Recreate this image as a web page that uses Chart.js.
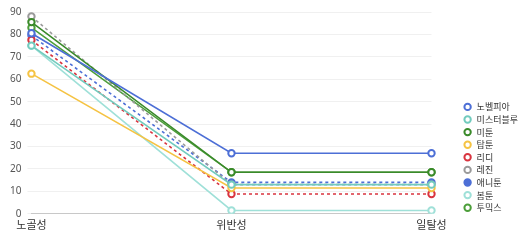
<!DOCTYPE html>
<html>
<head>
<meta charset="utf-8">
<script src="https://cdn.jsdelivr.net/npm/chart.js@4"></script>
<style>
  html,body{margin:0;padding:0;background:#fff;}
  #wrap{width:530px;height:242px;}
</style>
</head>
<body>
<div id="wrap"><canvas id="ch" width="530" height="242"></canvas></div>
<script>
const categories = ['노골성','위반성','일탈성'];
const platforms = ['노벨피아','미스터블루','미툰','탑툰','리디','레진','애니툰','봄툰','투믹스'];
const colors = ['#4d6fd6','#72cbbe','#3a8a2a','#f5c343','#d9343f','#9a9a9a','#4d6fd6','#9fe0d8','#4c9e3a'];
const dashed = [false,false,false,false,true,true,true,false,false];
const filled = [false,false,false,false,false,false,true,false,false];

const vNovelpia = [80.5, 27, 27];
const vMisterblue = [75, 13, 13];
const vMitoon = [85.5, 18.5, 18.5];
const vToptoon = [62.5, 11.5, 11.5];
const vRidi = [77.5, 8.8, 8.8];
const vLezhin = [88, 13, 13];
const vAnytoon = [79.5, 14, 14];
const vBomtoon = [75, 1.5, 1.5];
const vToomics = [83, 18.5, 18.5];
const values = [vNovelpia,vMisterblue,vMitoon,vToptoon,vRidi,vLezhin,vAnytoon,vBomtoon,vToomics];

const datasets = platforms.map((p,i)=>({
  label:p,
  data:values[i],
  borderColor:colors[i],
  backgroundColor: filled[i] ? colors[i] : '#fff',
  borderWidth:1.6,
  borderDash: dashed[i] ? [3,3] : [],
  pointRadius:3.2,
  pointBorderWidth:2,
  pointBackgroundColor: filled[i] ? colors[i] : '#fff',
  tension:0
}));

// legend: wider box, items pushed right
const legendShift = {
  id:'legendShift',
  beforeInit(chart){
    const lg = chart.legend;
    const fit = lg.fit;
    lg.fit = function(){ fit.call(this); this.width += 24; };
  },
  afterLayout(chart){
    chart.legend.left += 28;
    chart.legend.top += 2; chart.legend.bottom += 2;
  }
};

new Chart(document.getElementById('ch'), {
  type:'line',
  data:{ labels:categories, datasets },
  options:{
    responsive:false, animation:false,
    layout:{ padding:{ left:4, top:8, right:6, bottom:7 } },
    scales:{
      x:{ offset:false, grid:{ display:false, drawTicks:false }, border:{ color:'#c8c8c8' },
          ticks:{ color:'#333', font:{ size:11, family:'Noto Sans CJK KR' }, padding:4 } },
      y:{ min:0, max:90, ticks:{ stepSize:10, color:'#555', font:{ size:10, family:'Noto Sans' }, padding:6 },
          grid:{ color:'#f0f0f0', tickLength:4 }, border:{ display:false } }
    },
    plugins:{
      legend:{ position:'right', align:'end', fullSize:false,
        labels:{ usePointStyle:true, pointStyle:'circle', boxWidth:9, boxHeight:4.5, padding:3.6,
          color:'#333', font:{ size:9, family:'Noto Sans CJK KR' } } },
      tooltip:{ enabled:false }
    }
  },
  plugins:[legendShift]
});
</script>
</body>
</html>
